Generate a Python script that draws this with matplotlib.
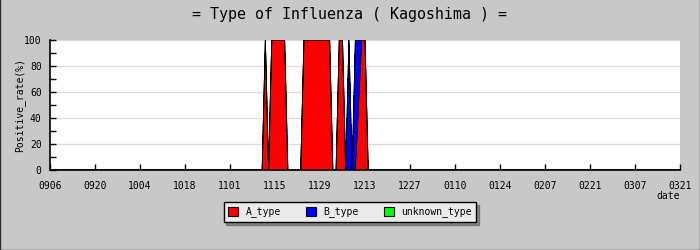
import numpy as np
import matplotlib
matplotlib.use("Agg")
import matplotlib.pyplot as plt
from matplotlib.patches import Patch
from matplotlib.lines import Line2D

# days counted from 0906; only the season with reports is listed, other days are 0
tick_labels = ["0906", "0920", "1004", "1018", "1101", "1115", "1129", "1213",
               "1227", "0110", "0124", "0207", "0221", "0307", "0321"]
n_days = 196

report_days = [66, 67, 68, 69, 70, 71, 72, 73, 74, 75, 76, 77, 78, 79, 80, 81, 82,
               83, 84, 85, 86, 87, 88, 89, 90, 91, 92, 93, 94, 95, 96, 97, 98, 99]
a_type = [0, 100, 0, 100, 100, 100, 100, 100, 0, 0, 0, 0, 0, 100, 100, 100, 100,
          100, 100, 100, 100, 100, 0, 0, 100, 100, 0, 0, 0, 0, 50, 100, 100, 0]
b_type = [0, 0, 0, 0, 0, 0, 0, 0, 0, 0, 0, 0, 0, 0, 0, 0, 0,
          0, 0, 0, 0, 0, 0, 0, 0, 0, 0, 100, 0, 100, 50, 0, 0, 0]
unknown_type = [0] * len(report_days)

series_names = ["A_type", "B_type", "unknown_type"]
series_colors = ["#ff0000", "#0000ff", "#00ff00"]

days = np.arange(n_days + 1)
a_full = np.zeros(n_days + 1)
b_full = np.zeros(n_days + 1)
u_full = np.zeros(n_days + 1)
a_full[report_days] = a_type
b_full[report_days] = b_type
u_full[report_days] = unknown_type

mono = "DejaVu Sans Mono"
bg = "#c8c8c8"

fig = plt.figure(figsize=(7, 2.5), dpi=100, facecolor=bg)
ax = fig.add_axes([50 / 700, 1 - 170 / 250, 630 / 700, 130 / 250])
ax.set_facecolor("white")

# stacked areas, filled without edges, then one black outline per layer top
polys = ax.stackplot(days, a_full, b_full, u_full, colors=series_colors,
                     linewidth=0, zorder=3)
for p in polys:
    p.set_antialiased(False)
tops = np.cumsum([a_full, b_full, u_full], axis=0)
for top in tops:
    ax.plot(days, top, color="black", linewidth=0.6, zorder=4,
            solid_joinstyle="round")

ax.set_xlim(0, n_days)
ax.set_ylim(0, 100)
ax.set_xticks(np.arange(0, n_days + 1, 14))
ax.set_xticklabels(tick_labels, fontfamily=mono, fontsize=7)
ax.set_yticks([0, 20, 40, 60, 80, 100])
ax.set_yticklabels(["0", "20", "40", "60", "80", "100"], fontfamily=mono, fontsize=7)
ax.set_yticks(np.arange(10, 100, 20), minor=True)
ax.tick_params(axis="both", which="both", direction="in", length=4, width=1,
               color="black")
ax.tick_params(axis="x", pad=8)
ax.tick_params(axis="y", pad=6)
ax.grid(axis="y", which="major", color="#dcdcdc", linewidth=0.9, zorder=0)
ax.set_axisbelow(True)
for side in ["top", "right"]:
    ax.spines[side].set_visible(False)
for side in ["left", "bottom"]:
    ax.spines[side].set_linewidth(1.2)
    ax.spines[side].set_zorder(5)

fig.text(0.5, 1 - 14 / 250, "= Type of Influenza ( Kagoshima ) =",
         ha="center", va="center", fontfamily=mono, fontsize=10.8)
fig.text(20 / 700, 1 - 105 / 250, "Positive_rate(%)", rotation=90,
         ha="center", va="center", fontfamily=mono, fontsize=7)
fig.text(680 / 700, 1 - 196 / 250, "date", ha="right", va="center",
         fontfamily=mono, fontsize=7)

handles = [Patch(facecolor=c, edgecolor="black", linewidth=0.8) for c in series_colors]
leg = fig.legend(handles, series_names, loc="center", bbox_to_anchor=(0.5, 1 - 212 / 250),
                 ncol=3, frameon=True, fancybox=False, shadow=True,
                 facecolor="#ebebeb", edgecolor="black", handlelength=1.0,
                 handleheight=1.0, handletextpad=0.8, columnspacing=2.6,
                 borderpad=0.45, prop={"family": mono, "size": 7})
leg.get_frame().set_linewidth(1)

# thin dark border on the image edges
for xs, ys in [([0.0005, 0.0005], [0, 1]), ([0.9995, 0.9995], [0, 1]),
               ([0, 1], [0.002, 0.002])]:
    fig.add_artist(Line2D(xs, ys, color="#303030", linewidth=1,
                          transform=fig.transFigure))

fig.savefig("out.png", dpi=100, facecolor=bg)
